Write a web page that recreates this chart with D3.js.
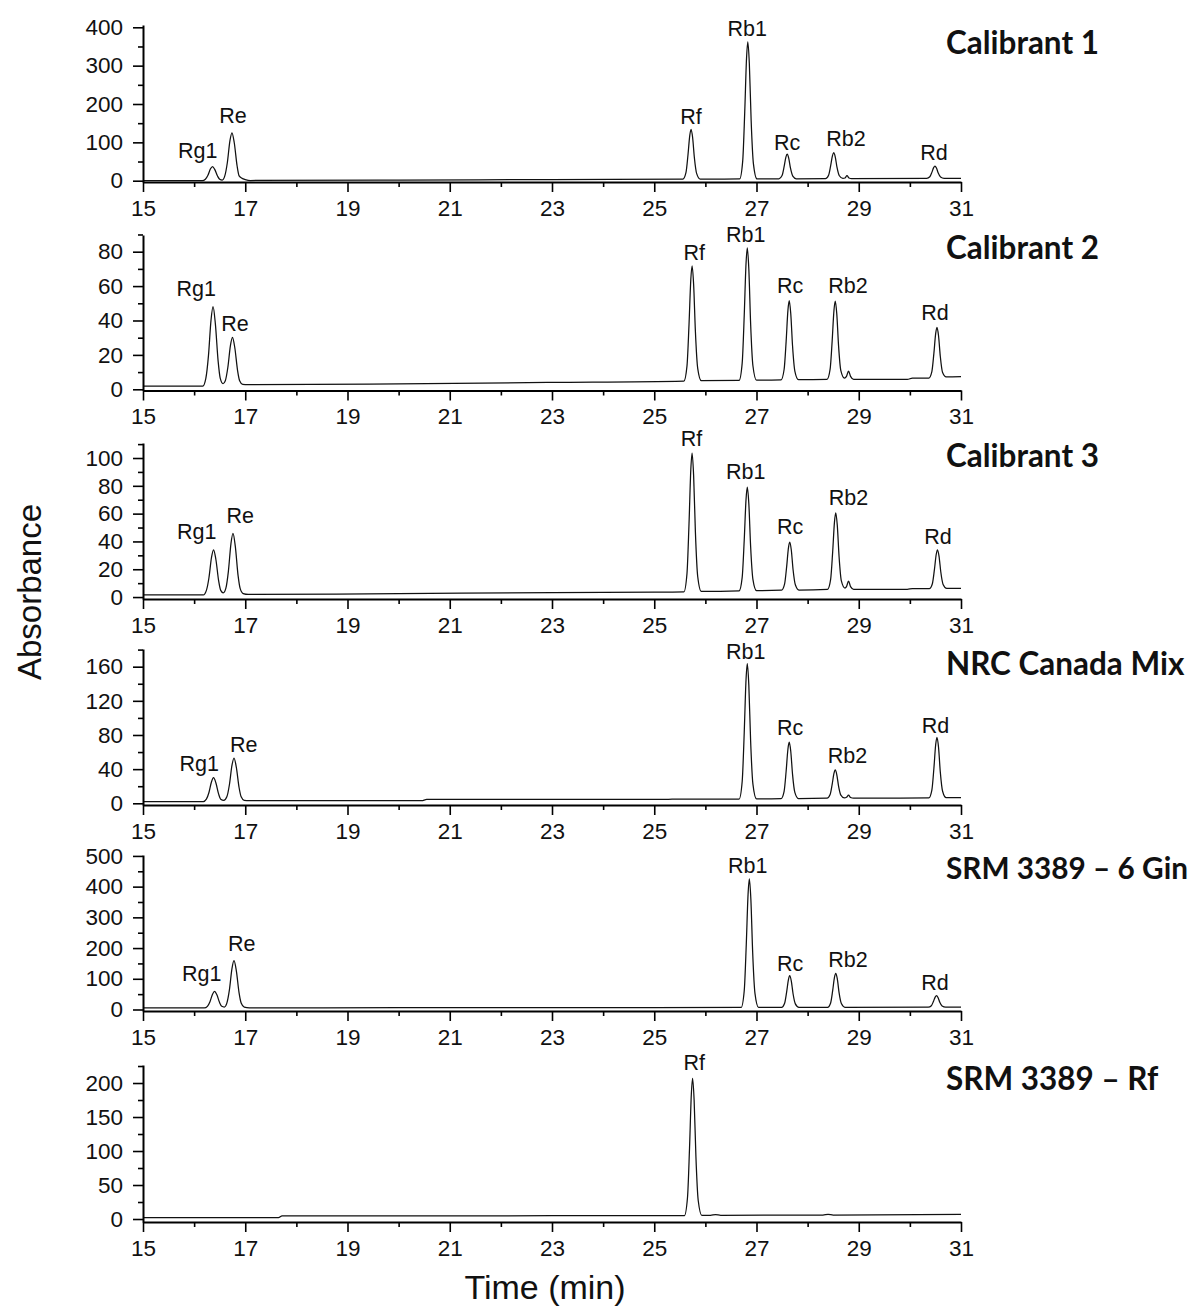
<!DOCTYPE html>
<html>
<head>
<meta charset="utf-8">
<script src="https://cdn.jsdelivr.net/npm/d3@7"></script>
<style>
  html, body { margin: 0; padding: 0; background: #fff; }
  svg { display: block; }
  .tick text { font-family: "Liberation Sans", Arial, sans-serif; font-size: 22.5px; fill: #111; }
</style>
</head>
<body>
<script>
// ---------------- DATA ----------------
const xTicks = [15, 17, 19, 21, 23, 25, 27, 29, 31];
const xMinorTicks = [16, 18, 20, 22, 24, 26, 28, 30];

const titles = ["Calibrant 1", "Calibrant 2", "Calibrant 3", "NRC Canada Mix", "SRM 3389 \u2013 6 Gin", "SRM 3389 \u2013 Rf"];

const yTicks1 = [0, 100, 200, 300, 400];  const yMinor1 = [50, 150, 250, 350];
const yTicks2 = [0, 20, 40, 60, 80];      const yMinor2 = [10, 30, 50, 70, 90];
const yTicks3 = [0, 20, 40, 60, 80, 100]; const yMinor3 = [10, 30, 50, 70, 90, 110];
const yTicks4 = [0, 40, 80, 120, 160];    const yMinor4 = [20, 60, 100, 140, 180];
const yTicks5 = [0, 100, 200, 300, 400, 500]; const yMinor5 = [50, 150, 250, 350, 450];
const yTicks6 = [0, 50, 100, 150, 200];   const yMinor6 = [25, 75, 125, 175, 225];

// traces: [time (min), absorbance]
const trace1 = [[15,0],[16.16,0],[16.22,3.7],[16.27,14],[16.32,31],[16.36,37],[16.405,29],[16.46,11.5],[16.5,3.7],[16.55,1.5],
  [16.6,12.5],[16.65,47.5],[16.7,104],[16.74,125],[16.785,99],[16.84,39],[16.88,12.5],[16.94,6],[17,3],[17.1,0.5],
  [20,1.5],[23,3],[25.56,4],[25.62,20.9],[25.66,67.7],[25.695,118.4],[25.72,134],[25.75,113.2],[25.785,59.9],[25.83,18.3],[25.9,4],
  [26.67,4.5],[26.73,51],[26.77,179.5],[26.805,319],[26.83,362],[26.86,304.8],[26.895,158.2],[26.94,43.8],[27.01,4.5],
  [27.44,5],[27.5,13.3],[27.54,36.4],[27.575,61.3],[27.6,69],[27.63,58.8],[27.665,32.5],[27.71,12],[27.78,5],
  [28.35,5.5],[28.41,14.3],[28.45,38.6],[28.485,64.9],[28.51,73],[28.54,62.2],[28.575,34.5],[28.62,12.9],[28.69,6],[28.73,7],[28.77,13],[28.81,7],[28.86,5.5],
  [30.33,6],[30.39,10.2],[30.43,21.7],[30.465,34.2],[30.49,38],[30.52,32.9],[30.555,19.8],[30.6,9.5],[30.67,6],[31,6]];

const trace2 = [[15,1.9],[16.17,1.9],[16.23,6.5],[16.28,19.4],[16.33,40.1],[16.37,48],[16.415,38.2],[16.47,16.2],[16.51,6.5],[16.565,3.3],
  [16.61,5],[16.66,12.8],[16.71,25.4],[16.75,30.2],[16.795,24.3],[16.85,10.9],[16.89,5],[16.95,2.9],[17.05,2.7],
  [20,3.2],[23,4],[25.58,4.8],[25.64,13.5],[25.68,37.6],[25.715,63.8],[25.74,71.8],[25.77,61.1],[25.805,33.6],[25.85,12.2],[25.92,5],
  [26.66,5.2],[26.72,15.2],[26.76,42.9],[26.795,73],[26.82,82.2],[26.85,69.9],[26.885,38.3],[26.93,13.7],[27,5.3],
  [27.48,5.5],[27.54,11.5],[27.58,28],[27.615,46],[27.64,51.5],[27.67,44.1],[27.705,25.3],[27.75,10.6],[27.82,5.6],
  [28.38,5.8],[28.44,11.7],[28.48,28.1],[28.515,45.8],[28.54,51.3],[28.57,44],[28.605,25.4],[28.65,10.8],[28.72,6.5],[28.76,7.5],[28.8,10.6],[28.84,7.5],[28.9,5.8],
  [29.95,5.8],[30.05,6.5],[30.37,6.5],[30.43,10.3],[30.47,21],[30.505,32.5],[30.53,36],[30.56,31.3],[30.595,19.2],[30.64,9.7],[30.71,7.2],[31,7.3]];

const trace3 = [[15,1.5],[16.18,1.5],[16.24,4.8],[16.29,13.9],[16.34,28.5],[16.38,34],[16.425,27.2],[16.48,11.6],[16.52,4.8],[16.57,3],
  [16.62,6.2],[16.67,18.5],[16.72,38.3],[16.76,45.8],[16.805,36.6],[16.86,15.4],[16.9,6.2],[16.96,2.5],[17.06,1.9],
  [20,2.5],[23,3.2],[25,3.5],[25.58,3.8],[25.64,16.8],[25.68,52.7],[25.715,91.5],[25.74,103.5],[25.77,87.5],[25.805,46.7],[25.85,14.8],[25.92,4],
  [26.66,4.5],[26.72,14.2],[26.76,41],[26.795,70.1],[26.82,79],[26.85,67.1],[26.885,36.5],[26.93,12.7],[27,4.6],
  [27.49,5],[27.55,9.5],[27.59,21.9],[27.625,35.4],[27.65,39.5],[27.68,34],[27.715,19.8],[27.76,8.8],[27.83,5],
  [28.39,5.5],[28.45,12.7],[28.49,32.5],[28.525,53.9],[28.55,60.5],[28.58,51.7],[28.615,29.2],[28.66,11.6],[28.73,6.5],[28.76,7.5],[28.8,11.5],[28.84,7.5],[28.9,5.6],
  [29.95,5.6],[30.05,6],[30.38,6],[30.44,9.6],[30.48,19.7],[30.515,30.6],[30.54,34],[30.57,29.5],[30.605,18],[30.65,9.1],[30.72,6.3],[31,6.3]];

const trace4 = [[15,2],[16.18,2],[16.24,4.8],[16.29,12.6],[16.34,25.2],[16.38,30],[16.425,24.1],[16.48,10.7],[16.52,4.8],[16.58,3.5],
  [16.64,7.6],[16.69,21.7],[16.74,44.4],[16.78,53],[16.825,42.4],[16.88,18.2],[16.92,7.6],[16.98,3.5],[17.08,3],
  [20.45,3],[20.55,4.5],[23,4.5],[25.2,4.6],[25.35,4.8],
  [26.66,5],[26.72,25.6],[26.76,82.7],[26.795,144.5],[26.82,163.5],[26.85,138.1],[26.885,73.2],[26.93,22.4],[27,5.2],
  [27.48,5.5],[27.54,14.1],[27.58,37.8],[27.615,63.6],[27.64,71.5],[27.67,61],[27.705,33.9],[27.75,12.8],[27.82,5.6],
  [28.38,6],[28.44,10.3],[28.48,22.2],[28.515,35],[28.54,39],[28.57,33.7],[28.605,20.2],[28.65,9.6],[28.72,6.3],[28.76,7],[28.8,9.5],[28.84,6.8],[28.9,6],
  [30.37,6.3],[30.43,15.5],[30.47,41.1],[30.505,68.8],[30.53,77.3],[30.56,65.9],[30.595,36.8],[30.64,14.1],[30.71,6.6],[31,6.6]];

const trace5 = [[15,5],[16.2,5],[16.26,10.4],[16.31,25.5],[16.36,49.8],[16.4,59],[16.445,47.7],[16.5,21.7],[16.54,10.4],[16.59,8],
  [16.64,20.9],[16.69,63.8],[16.74,132.9],[16.78,159],[16.825,126.8],[16.88,53.1],[16.92,20.9],[16.98,8],[17.08,5.5],
  [20,5.8],[25,6.2],[26.7,6.5],[26.76,60.9],[26.8,211.6],[26.835,374.8],[26.86,425],[26.89,358],[26.925,186.5],[26.97,52.5],[27.04,6.8],
  [27.49,7],[27.55,20.4],[27.59,57.5],[27.625,97.6],[27.65,110],[27.68,93.5],[27.715,51.3],[27.76,18.3],[27.83,7],
  [28.39,7],[28.45,21.4],[28.49,61.4],[28.525,104.7],[28.55,118],[28.58,100.2],[28.615,54.7],[28.66,19.2],[28.73,7.2],
  [30.36,7.5],[30.42,12.4],[30.46,25.9],[30.495,40.5],[30.52,45],[30.55,39],[30.585,23.6],[30.63,11.6],[30.7,7.5],[31,7.5]];

const trace6 = [[15,2],[17.65,2],[17.72,4.5],[23,4.8],[25.59,5],[25.65,31.3],[25.69,104],[25.725,182.8],[25.75,207],[25.78,174.7],[25.815,91.9],[25.86,27.2],[25.93,5.5],
  [26.1,5.5],[26.2,6.5],[26.3,5.5],[28.3,5.8],[28.4,6.8],[28.5,5.8],[31,6.8]];

// peak labels: [name, time at label centre, absorbance at label baseline]
const labels1 = [["Rg1",16.07,59],["Re",16.76,150],["Rf",25.72,148],["Rb1",26.82,377],["Rc",27.6,80],["Rb2",28.75,90],["Rd",30.47,54]];
const labels2 = [["Rg1",16.04,54.5],["Re",16.8,34],["Rf",25.78,75],["Rb1",26.79,85.5],["Rc",27.66,56],["Rb2",28.79,56],["Rd",30.49,40]];
const labels3 = [["Rg1",16.05,41.5],["Re",16.9,53],["Rf",25.73,109],["Rb1",26.79,85],["Rc",27.66,45.5],["Rb2",28.8,66.5],["Rd",30.55,38]];
const labels4 = [["Rg1",16.1,37.5],["Re",16.97,60.5],["Rb1",26.79,169.5],["Rc",27.66,80.5],["Rb2",28.78,47.5],["Rd",30.5,82.5]];
const labels5 = [["Rg1",16.15,92],["Re",16.93,190],["Rb1",26.83,443],["Rc",27.66,125],["Rb2",28.79,137],["Rd",30.49,64]];
const labels6 = [["Rf",25.78,219]];

// ---------------- LAYOUT ----------------
const W = 1198, H = 1308;
const panelTop    = [25, 235, 443, 649, 855, 1065];
const panelBottom = [182, 390.5, 599, 805, 1011, 1222];
const yDomains = [[-3.4, 406], [-0.7, 89.7], [-1.4, 110.8], [-2, 180.7], [-4.9, 503], [-4.4, 226.5]];
const titleY = [54, 259, 467, 675, 879, 1090];

const panels = [
  {title: titles[0], trace: trace1, labels: labels1, ticks: yTicks1, minor: yMinor1},
  {title: titles[1], trace: trace2, labels: labels2, ticks: yTicks2, minor: yMinor2},
  {title: titles[2], trace: trace3, labels: labels3, ticks: yTicks3, minor: yMinor3},
  {title: titles[3], trace: trace4, labels: labels4, ticks: yTicks4, minor: yMinor4},
  {title: titles[4], trace: trace5, labels: labels5, ticks: yTicks5, minor: yMinor5},
  {title: titles[5], trace: trace6, labels: labels6, ticks: yTicks6, minor: yMinor6}
];

const svg = d3.select("body").append("svg").attr("width", W).attr("height", H);
const x = d3.scaleLinear().domain([15, 31]).range([143, 961]);
const FONT = "'Liberation Sans', Arial, sans-serif";

function styleAxis(sel) {
  sel.select(".domain").attr("stroke", "#000").attr("stroke-width", 2);
  sel.selectAll(".tick line").attr("stroke", "#000").attr("stroke-width", 1.6);
}

panels.forEach((p, i) => {
  const y = d3.scaleLinear().domain(yDomains[i]).range([panelBottom[i], panelTop[i]]);
  const g = svg.append("g");

  // trace
  g.append("path")
    .datum(p.trace)
    .attr("fill", "none")
    .attr("stroke", "#111")
    .attr("stroke-width", 1.25)
    .attr("stroke-linejoin", "round")
    .attr("d", d3.line().x(d => x(d[0])).y(d => y(d[1])).curve(d3.curveMonotoneX));

  // x axis (minor then major)
  const xMinorG = g.append("g").attr("transform", `translate(0,${panelBottom[i]})`)
    .call(d3.axisBottom(x).tickValues(xMinorTicks).tickSize(5).tickSizeOuter(0).tickFormat(""));
  xMinorG.select(".domain").remove();
  styleAxis(xMinorG);
  const xG = g.append("g").attr("transform", `translate(0,${panelBottom[i]})`)
    .call(d3.axisBottom(x).tickValues(xTicks).tickSize(10).tickSizeOuter(0).tickPadding(8).tickFormat(d3.format("d")));
  styleAxis(xG);

  // y axis
  const yMinorG = g.append("g").attr("transform", `translate(${x(15)},0)`)
    .call(d3.axisLeft(y).tickValues(p.minor).tickSize(5).tickSizeOuter(0).tickFormat(""));
  yMinorG.select(".domain").remove();
  styleAxis(yMinorG);
  const yG = g.append("g").attr("transform", `translate(${x(15)},0)`)
    .call(d3.axisLeft(y).tickValues(p.ticks).tickSize(10).tickSizeOuter(0).tickPadding(10).tickFormat(d3.format("d")));
  styleAxis(yG);

  // peak labels
  g.selectAll("text.peak").data(p.labels).join("text")
    .attr("class", "peak")
    .attr("x", d => x(d[1]))
    .attr("y", d => y(d[2]))
    .attr("text-anchor", "middle")
    .attr("font-family", FONT)
    .attr("font-size", 21.5)
    .attr("fill", "#111")
    .text(d => d[0]);

  // panel title
  g.append("text")
    .attr("class", "ptitle")
    .attr("x", 946)
    .attr("y", titleY[i])
    .attr("font-family", "Lato, 'Open Sans', sans-serif")
    .attr("font-weight", 700)
    .attr("font-size", 25)
    .attr("fill", "#111")
    .text(p.title);
});

// fit title font so "Calibrant 1" is ~153px wide; shrink any title that would leave the page
const firstTitle = svg.select("text.ptitle").node();
const w0 = firstTitle.getComputedTextLength();
let fs = 25;
if (w0 > 0) {
  fs = 25 * 153 / w0;
  svg.selectAll("text.ptitle").attr("font-size", fs);
}
svg.selectAll("text.ptitle").each(function () {
  const maxW = W - 946 - 10;
  const w = this.getComputedTextLength();
  if (w > maxW) {
    d3.select(this).attr("font-size", fs * maxW / w);
  }
});

// axis titles
svg.append("text")
  .attr("transform", "translate(41,592) rotate(-90)")
  .attr("text-anchor", "middle")
  .attr("font-family", FONT)
  .attr("font-size", 33)
  .attr("fill", "#111")
  .text("Absorbance");

svg.append("text")
  .attr("x", 545)
  .attr("y", 1299)
  .attr("text-anchor", "middle")
  .attr("font-family", FONT)
  .attr("font-size", 34)
  .attr("fill", "#111")
  .text("Time (min)");
</script>
</body>
</html>
